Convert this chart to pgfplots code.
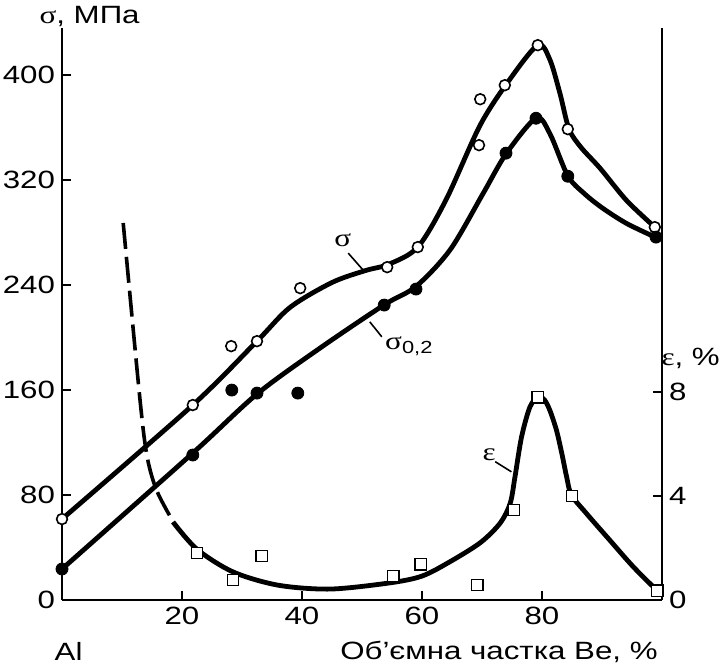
\documentclass[border=0pt]{standalone}
\usepackage{pgfplots}
\pgfplotsset{compat=1.18}
\usepackage{fontspec}
\setmainfont{Liberation Sans}[FakeStretch=1.25]
\newfontfamily\grk{Liberation Serif}[FakeStretch=1.25]

\pgfplotsset{
  base/.style={
    width=300pt, height=286pt, scale only axis,
    xmin=0, xmax=100,
    tick align=inside, major tick length=4.5pt,
    axis line style={line width=0.9pt},
    every tick/.style={black, line width=0.9pt},
    ticklabel style={font=\fontsize{12.5}{14}\selectfont},
    /pgf/number format/assume math mode=true,
    clip=false,
  },
  curve/.style={black, line width=2.4pt, smooth, no markers},
  opencirc/.style={only marks, mark=*, mark size=2.7pt,
    mark options={draw=black, fill=white, line width=0.8pt}},
  fullcirc/.style={only marks, mark=*, mark size=3pt,
    mark options={draw=black, fill=black}},
  sq/.style={only marks, mark=square*, mark size=2.8pt,
    mark options={draw=black, fill=white, line width=0.8pt}},
}

\begin{document}
\begin{tikzpicture}[font=\fontsize{12.5}{14}\selectfont]
\path[use as bounding box] (-31pt,-33.5pt) rectangle (331pt,300pt);

% sigma axis (left)
\begin{axis}[base,
    ymin=0, ymax=436,
    axis x line*=bottom, axis y line*=left,
    xtick={20,40,60,80}, ytick={0,80,160,240,320,400},
  ]
% sigma_B
\addplot[curve] coordinates {
 (0,61.7) (21.8,148.6) (32.5,197.3) (38,223) (45,242) (50.5,251)
 (54.5,256) (59.3,269) (64,305) (69.7,362) (74.5,396) (79.3,422.9)
 (81.3,412) (83,386) (84.5,359) (86.5,345) (89.7,329) (94.1,304.5) (98.8,284.2)};
% sigma_0.2
\addplot[curve] coordinates {
 (0,23.6) (21.8,112) (32.5,157) (43,192) (53.7,225) (59,239) (64.7,267)
 (70.2,310) (74,340) (79,367.2) (81.3,355.6) (84.3,323.3) (87,310)
 (90,299) (94.1,287) (99,276.3)};
\addplot[opencirc] coordinates {
 (0,61.7) (21.8,148.6) (28.2,193.5) (32.5,197.3) (39.7,237.7) (54.2,253.7)
 (59.3,269) (69.5,346.7) (69.7,381.7) (73.8,392.4) (79.3,422.9) (84.3,358.9)
 (98.8,284.2)};
\addplot[fullcirc] coordinates {
 (0,23.6) (21.8,110.5) (28.3,160) (32.5,157.7) (39.3,157.7) (53.7,224.8)
 (59,237) (74,340.6) (79,367.2) (84.3,323) (99,276.6)};

\draw[line width=0.8pt] (axis cs:47.7,264.4) -- (axis cs:50.2,251.4);
\node at (axis cs:46.8,274) {\grk σ};
\draw[line width=0.8pt] (axis cs:51.3,212) -- (axis cs:53.3,200.6);
\node[anchor=west, inner sep=0pt] at (axis cs:53.8,193.5) {{\grk σ}\textsubscript{0,2}};
\node at (axis cs:4.6,445) {{\grk σ}, МПа};
\node at (axis cs:1.1,-39.6) {Al};
\node[anchor=east, inner sep=0pt] at (axis cs:99.33,-39.6) {Об’ємна частка Be, \%};
\end{axis}

% epsilon axis (right)
\begin{axis}[base,
    ymin=0, ymax=22,
    axis x line=none, axis y line*=right,
    ytick={0,4,8},
  ]
\addplot[black, line width=1.8pt, smooth, dash pattern=on 13pt off 4pt] coordinates {
 (10.2,14.5) (13,7.7) (14.2,5.5) (15.8,4.2) (18.6,2.98)};
\addplot[curve] coordinates {
 (18.5,3.0) (22.5,1.95) (28.5,1.08) (36,0.57) (44.7,0.42) (54.7,0.66)
 (60,0.92) (64.5,1.45) (69.7,2.2) (73,2.95) (74.7,3.72) (75.5,4.74)
 (76.6,6.28) (78,7.43) (79.4,7.82) (80.4,7.7) (81.3,7.3) (82.4,6.54)
 (83.3,5.64) (84.1,4.74) (84.9,4.04) (87.4,3.33) (91.3,2.3) (95.2,1.28)
 (99.1,0.38)};
\addplot[sq] coordinates {
 (22.5,1.81) (28.5,0.77) (33.3,1.69) (55.2,0.92) (59.8,1.38) (69.2,0.58)
 (75.3,3.46) (79.3,7.8) (85,4.0) (99.2,0.35)};

\draw[line width=0.8pt] (axis cs:72.2,5.32) -- (axis cs:74.9,4.93);
\node at (axis cs:71.2,5.58) {\grk ε};
\node[anchor=east, inner sep=0pt] at (axis cs:109.7,9.3) {{\grk ε}, \%};
\end{axis}
\end{tikzpicture}
\end{document}
